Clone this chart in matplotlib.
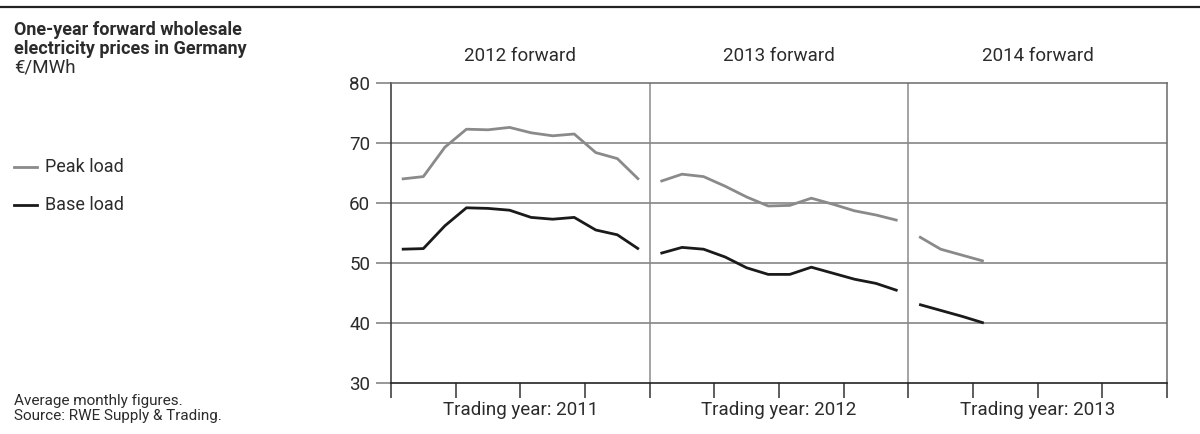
import matplotlib.pyplot as plt
import numpy as np

# Average monthly one-year forward prices, EUR/MWh
peak_2012 = [64.0, 64.4, 69.3, 72.3, 72.2, 72.6, 71.7, 71.2, 71.5, 68.4, 67.4, 63.9]
base_2012 = [52.3, 52.4, 56.2, 59.2, 59.1, 58.8, 57.6, 57.3, 57.6, 55.5, 54.7, 52.3]
peak_2013 = [63.6, 64.8, 64.4, 62.8, 61.0, 59.5, 59.6, 60.8, 59.8, 58.7, 58.0, 57.1]
base_2013 = [51.6, 52.6, 52.3, 51.0, 49.2, 48.1, 48.1, 49.3, 48.3, 47.3, 46.6, 45.4]
peak_2014 = [54.4, 52.3, 51.3, 50.3]
base_2014 = [43.1, 42.1, 41.1, 40.0]

panel_titles = ['2012 forward', '2013 forward', '2014 forward']
trading_years = ['Trading year: 2011', 'Trading year: 2012', 'Trading year: 2013']

plt.rcParams['font.family'] = ['Roboto', 'DejaVu Sans']

PEAK = '#8a8a8a'
BASE = '#1a1a1a'
TXT = '#2b2b2b'

fig = plt.figure(figsize=(12, 4.34), dpi=100)
ax = fig.add_axes([391 / 1200, 51 / 434, 776 / 1200, 300 / 434])

peaks = [peak_2012, peak_2013, peak_2014]
bases = [base_2012, base_2013, base_2014]
for k in range(3):
    x = 12 * k + np.arange(len(peaks[k])) + 0.5
    ax.plot(x, peaks[k], color=PEAK, lw=2.0, solid_capstyle='butt', zorder=3)
    ax.plot(x, bases[k], color=BASE, lw=2.0, solid_capstyle='butt', zorder=3)

ax.set_xlim(0, 36)
ax.set_ylim(30, 80)

# horizontal grid and panel dividers
for v in [40, 50, 60, 70]:
    ax.axhline(v, color='#7a7a7a', lw=1.1, zorder=1)
for xv in [12, 24]:
    ax.axvline(xv, color='#8a8a8a', lw=1.1, zorder=1)

ax.set_yticks([30, 40, 50, 60, 70, 80])
ax.tick_params(axis='y', length=11, width=1.1, color='#7a7a7a', labelsize=13.5,
               labelcolor=TXT, pad=4)
ax.set_xticks(np.arange(0, 37, 3))
ax.set_xticklabels([])
ax.tick_params(axis='x', length=11, width=1.1, color='#333333', direction='out')

for side in ['top', 'right']:
    ax.spines[side].set_color('#6a6a6a')
    ax.spines[side].set_linewidth(1.1)
ax.spines['left'].set_color('#333333')
ax.spines['bottom'].set_color('#222222')
ax.spines['left'].set_linewidth(1.1)
ax.spines['bottom'].set_linewidth(1.2)

for k in range(3):
    ax.text(12 * k + 6, 84.5, panel_titles[k], ha='center', va='center',
            fontsize=13.5, color=TXT)
    ax.text(12 * k + 6, 25.5, trading_years[k], ha='center', va='center',
            fontsize=13.5, color=TXT)

# top rule
fig.add_artist(plt.Line2D([0, 1], [1 - 7 / 434, 1 - 7 / 434], color='#222222', lw=1.6))

fig.text(14 / 1200, 1 - 30 / 434, 'One-year forward wholesale', fontsize=13,
         fontweight='bold', color=TXT, va='center')
fig.text(14 / 1200, 1 - 49 / 434, 'electricity prices in Germany', fontsize=13,
         fontweight='bold', color=TXT, va='center')
fig.text(14 / 1200, 1 - 68 / 434, '€/MWh', fontsize=13.5, color=TXT, va='center')

# legend
for yy, col, lab in [(167, PEAK, 'Peak load'), (205, BASE, 'Base load')]:
    yf = 1 - yy / 434
    fig.add_artist(plt.Line2D([14 / 1200, 37 / 1200], [yf, yf], color=col, lw=2.0))
    fig.text(45 / 1200, yf, lab, fontsize=13, color=TXT, va='center')

fig.text(14 / 1200, 1 - 401 / 434, 'Average monthly figures.', fontsize=11,
         color=TXT, va='center')
fig.text(14 / 1200, 1 - 416 / 434, 'Source: RWE Supply & Trading.', fontsize=11,
         color=TXT, va='center')

fig.savefig('out.png', dpi=100)
